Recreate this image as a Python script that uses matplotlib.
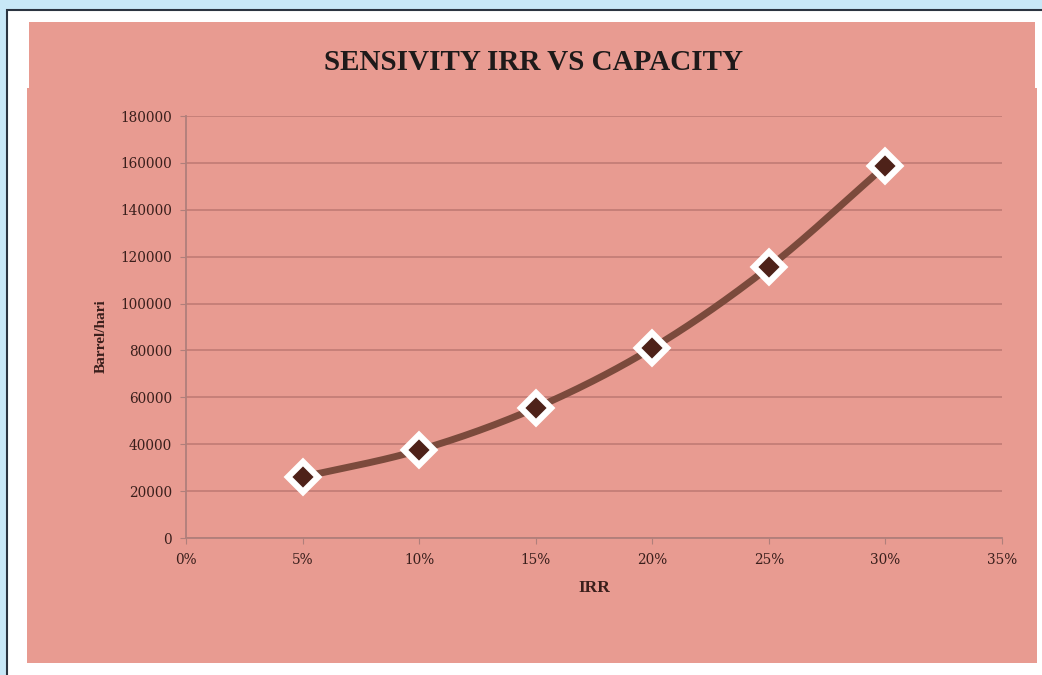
import numpy as np
import matplotlib
matplotlib.use("Agg")
import matplotlib.pyplot as plt
from matplotlib.patches import Rectangle
from matplotlib.ticker import FuncFormatter

# Capacity needed for each IRR level
irr = [0.05, 0.10, 0.15, 0.20, 0.25, 0.30]
capacity = [26000, 37500, 55500, 81000, 115500, 158800]
x_ticks = [0, 0.05, 0.10, 0.15, 0.20, 0.25, 0.30, 0.35]
y_ticks = [0, 20000, 40000, 60000, 80000, 100000, 120000, 140000, 160000, 180000]

W, H = 1042, 675
fig = plt.figure(figsize=(W / 100, H / 100), dpi=100)
fig.patch.set_facecolor("#c8e8f7")

def px_rect(x0, y0, x1, y1, **kw):
    """Rectangle given in pixel coordinates (origin top-left)."""
    return Rectangle((x0 / W, 1 - y1 / H), (x1 - x0) / W, (y1 - y0) / H,
                     transform=fig.transFigure, **kw)

# white panel with dark frame
fig.patches.append(px_rect(7, 10, W + 20, H + 20, facecolor="white",
                           edgecolor="#2b3440", linewidth=1.5, zorder=0))
# pink chart area (title strip + plot block)
pink = "#e89b91"
fig.patches.append(px_rect(29, 22, 1035, 89, facecolor=pink, edgecolor="none", zorder=1))
fig.patches.append(px_rect(27, 88, 1037, 663, facecolor=pink, edgecolor="none", zorder=1))

ax = fig.add_axes([186 / W, 1 - 538 / H, (1002 - 186) / W, (538 - 116) / H])
ax.set_facecolor("none")
ax.set_zorder(2)

serif = ["Liberation Serif", "DejaVu Serif"]
tick_font = ["DejaVu Serif"]
tick_color = "#3a1f1c"

ax.set_xlim(0, 0.35)
ax.set_ylim(0, 180000)
ax.set_xticks(x_ticks)
ax.set_yticks(y_ticks)
ax.xaxis.set_major_formatter(FuncFormatter(lambda v, p: f"{round(v * 100)}%"))
ax.yaxis.set_major_formatter(FuncFormatter(lambda v, p: f"{int(v)}"))
for lab in ax.get_xticklabels() + ax.get_yticklabels():
    lab.set_fontfamily(tick_font)
    lab.set_fontsize(9.8)
    lab.set_color(tick_color)

grid_color = "#c47e77"
ax.grid(axis="y", color=grid_color, linewidth=1.3)
ax.set_axisbelow(True)
for s in ["top", "right"]:
    ax.spines[s].set_visible(False)
for s in ["left", "bottom"]:
    ax.spines[s].set_color("#b07f7b")
    ax.spines[s].set_linewidth(1.3)
ax.tick_params(axis="x", length=4, color="#b07f7b", pad=7)
ax.tick_params(axis="y", length=4, color="#b07f7b", pad=6)

# smoothed line through the points (Catmull-Rom style, as in spreadsheet charts)
def smooth(xs, ys, n=40):
    xs = np.asarray(xs, float)
    ys = np.asarray(ys, float)
    P = np.column_stack([xs, ys])
    P = np.vstack([2 * P[0] - P[1], P, 2 * P[-1] - P[-2]])
    out = []
    for i in range(1, len(P) - 2):
        p0, p1, p2, p3 = P[i - 1], P[i], P[i + 1], P[i + 2]
        t = np.linspace(0, 1, n)[:, None]
        seg = 0.5 * ((2 * p1) + (-p0 + p2) * t + (2 * p0 - 5 * p1 + 4 * p2 - p3) * t ** 2
                     + (-p0 + 3 * p1 - 3 * p2 + p3) * t ** 3)
        out.append(seg)
    out = np.vstack(out)
    return out[:, 0], out[:, 1]

sx, sy = smooth(irr, capacity)
ax.plot(sx, sy, color="#7b4a3c", linewidth=5, solid_capstyle="round", zorder=3)
ax.plot(irr, capacity, linestyle="none", marker="D", markersize=15,
        markerfacecolor="#4e2219", markeredgecolor="white", markeredgewidth=4.5, zorder=4)

ax.set_xlabel("IRR", fontfamily=serif, fontweight="bold", fontsize=12.5,
              color=tick_color, labelpad=9)
ax.set_ylabel("Barrel/hari", fontfamily=serif, fontweight="bold", fontsize=11,
              color=tick_color)
ax.yaxis.set_label_coords((108 - 186) / 816, (538 - 336) / 422)

fig.text(533 / W, 1 - 62 / H, "SENSIVITY IRR VS CAPACITY", fontfamily=serif,
         fontweight="bold", fontsize=21, color="#1e1a1a", ha="center", va="center")

fig.savefig("out.png", dpi=100)
